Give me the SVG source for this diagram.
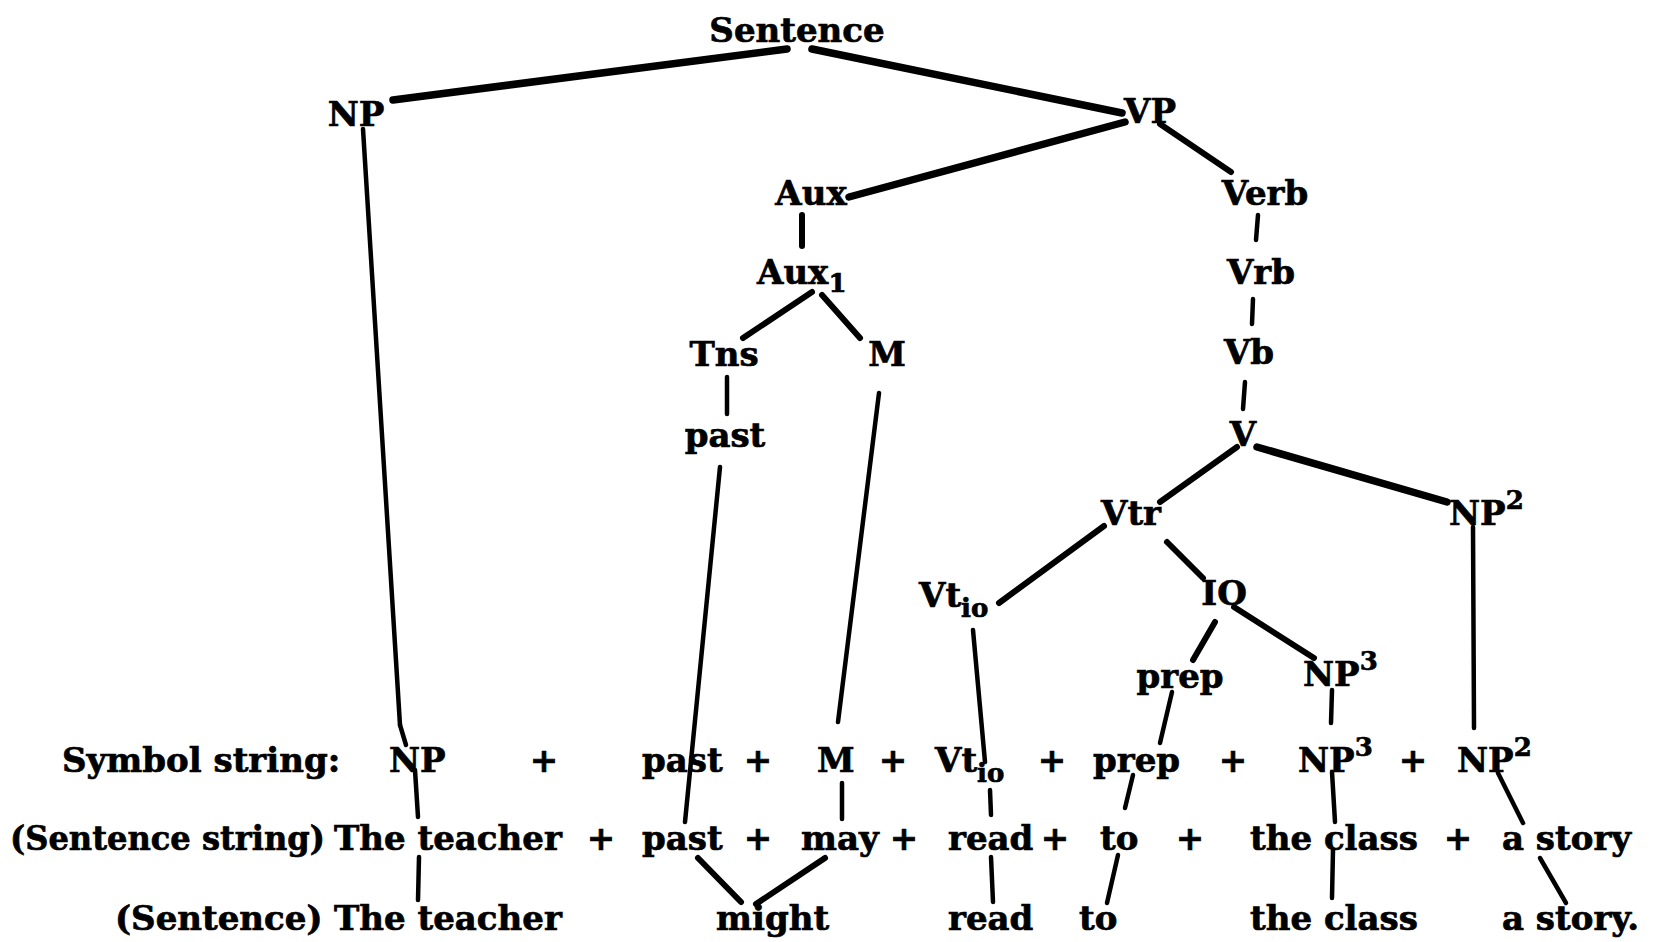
<svg xmlns="http://www.w3.org/2000/svg" width="1664" height="942" viewBox="0 0 1664 942">
<style>
text{font-family:"DejaVu Serif","Liberation Serif",serif;font-weight:bold;font-size:34px;fill:#000;stroke:#000;stroke-width:0.7}
.s{font-size:26px}
.c{text-anchor:middle}
.l{stroke:#000;stroke-width:6;stroke-linecap:round;fill:none}
.t{stroke:#000;stroke-width:7.5;stroke-linecap:round;fill:none}
.v{stroke:#000;stroke-width:4.5;stroke-linecap:round;fill:none}
</style>
<rect width="1664" height="942" fill="#fff"/>
<g id="connectors">
<line class="t" x1="787" y1="49" x2="393" y2="100"/>
<line class="t" x1="812" y1="49" x2="1122" y2="113"/>
<line class="t" x1="1125" y1="122" x2="849" y2="197"/>
<line class="l" x1="1160" y1="124" x2="1231" y2="172"/>
<line class="l" x1="802" y1="215" x2="802" y2="246"/>
<line class="v" x1="1258" y1="215" x2="1256" y2="240"/>
<line class="l" x1="812" y1="292" x2="743" y2="338"/>
<line class="l" x1="822" y1="295" x2="860" y2="338"/>
<line class="v" x1="1253" y1="299" x2="1252" y2="324"/>
<line class="v" x1="727" y1="377" x2="727" y2="414"/>
<line class="v" x1="1245" y1="382" x2="1243" y2="409"/>
<line class="l" x1="1237" y1="447" x2="1160" y2="502"/>
<line class="t" x1="1257" y1="447" x2="1447" y2="502"/>
<line class="l" x1="1104" y1="526" x2="999" y2="603"/>
<line class="l" x1="1167" y1="542" x2="1203" y2="578"/>
<line class="l" x1="1215" y1="622" x2="1193" y2="660"/>
<line class="l" x1="1234" y1="607" x2="1314" y2="658"/>
<line class="v" x1="363" y1="129" x2="400" y2="725"/>
<line class="v" x1="400" y1="725" x2="406" y2="745"/>
<line class="v" x1="415" y1="770" x2="418" y2="817"/>
<line class="v" x1="419" y1="857" x2="418" y2="900"/>
<line class="v" x1="720" y1="467" x2="685" y2="822"/>
<line class="v" x1="879" y1="393" x2="838" y2="722"/>
<line class="v" x1="842" y1="783" x2="842" y2="819"/>
<line class="v" x1="973" y1="630" x2="985" y2="762"/>
<line class="v" x1="990" y1="790" x2="991" y2="815"/>
<line class="v" x1="991" y1="857" x2="993" y2="902"/>
<line class="v" x1="1172" y1="692" x2="1160" y2="743"/>
<line class="v" x1="1133" y1="775" x2="1125" y2="808"/>
<line class="v" x1="1118" y1="855" x2="1107" y2="903"/>
<line class="v" x1="1332" y1="690" x2="1331" y2="723"/>
<line class="v" x1="1332" y1="772" x2="1335" y2="822"/>
<line class="v" x1="1333" y1="850" x2="1332" y2="898"/>
<line class="v" x1="1473" y1="527" x2="1474" y2="728"/>
<line class="v" x1="1498" y1="773" x2="1523" y2="823"/>
<line class="v" x1="1540" y1="858" x2="1566" y2="903"/>
<line class="l" x1="698" y1="858" x2="741" y2="902"/>
<line class="l" x1="825" y1="858" x2="756" y2="904"/>
</g>
<g id="n-sentence"><text class="c" x="797" y="42">Sentence</text></g>
<g id="n-np"><text class="c" x="356" y="126">NP</text></g>
<g id="n-vp"><text class="c" x="1150" y="123">VP</text></g>
<g id="n-aux"><text class="c" x="811" y="205">Aux</text></g>
<g id="n-verb"><text class="c" x="1265" y="205">Verb</text></g>
<g id="n-aux1"><text x="757" y="284">Aux<tspan class="s" dy="8">1</tspan></text></g>
<g id="n-vrb"><text class="c" x="1261" y="284">Vrb</text></g>
<g id="n-tns"><text class="c" x="724" y="366">Tns</text></g>
<g id="n-m"><text class="c" x="887" y="366">M</text></g>
<g id="n-vb"><text class="c" x="1249" y="364">Vb</text></g>
<g id="n-past"><text class="c" x="725" y="447">past</text></g>
<g id="n-v"><text class="c" x="1243" y="446">V</text></g>
<g id="n-vtr"><text class="c" x="1131" y="525">Vtr</text></g>
<g id="n-np2"><text x="1449" y="525">NP<tspan class="s" dy="-16">2</tspan></text></g>
<g id="n-vtio"><text x="919" y="607">Vt<tspan class="s" dy="10">io</tspan></text></g>
<g id="n-io"><text class="c" x="1224" y="605">IO</text></g>
<g id="n-prep"><text class="c" x="1180" y="688">prep</text></g>
<g id="n-np3"><text x="1303" y="686">NP<tspan class="s" dy="-16">3</tspan></text></g>
<g id="row-symbol">
<text x="62" y="772">Symbol string:</text>
<text x="389" y="772">NP</text>
<text class="c" x="544" y="772">+</text>
<text x="642" y="772">past</text>
<text class="c" x="758" y="772">+</text>
<text x="817" y="772">M</text>
<text class="c" x="893" y="772">+</text>
<text x="935" y="772">Vt<tspan class="s" dy="10">io</tspan></text>
<text class="c" x="1052" y="772">+</text>
<text x="1093" y="772">prep</text>
<text class="c" x="1233" y="772">+</text>
<text x="1298" y="772">NP<tspan class="s" dy="-16">3</tspan></text>
<text class="c" x="1413" y="772">+</text>
<text x="1457" y="772">NP<tspan class="s" dy="-16">2</tspan></text>
</g>
<g id="row-sentence-string">
<text x="10" y="850" textLength="315" lengthAdjust="spacingAndGlyphs">(Sentence string)</text>
<text x="334" y="850">The teacher</text>
<text class="c" x="601" y="850">+</text>
<text x="642" y="850">past</text>
<text class="c" x="758" y="850">+</text>
<text x="801" y="850">may</text>
<text class="c" x="904" y="850">+</text>
<text x="948" y="850">read</text>
<text class="c" x="1055" y="850">+</text>
<text x="1100" y="850">to</text>
<text class="c" x="1190" y="850">+</text>
<text x="1250" y="850">the class</text>
<text class="c" x="1458" y="850">+</text>
<text x="1502" y="850">a story</text>
</g>
<g id="row-sentence">
<text x="115" y="930">(Sentence)</text>
<text x="334" y="930">The teacher</text>
<text x="716" y="930">might</text>
<text x="948" y="930">read</text>
<text x="1079" y="930">to</text>
<text x="1250" y="930">the class</text>
<text x="1502" y="930">a story.</text>
</g>
</svg>
